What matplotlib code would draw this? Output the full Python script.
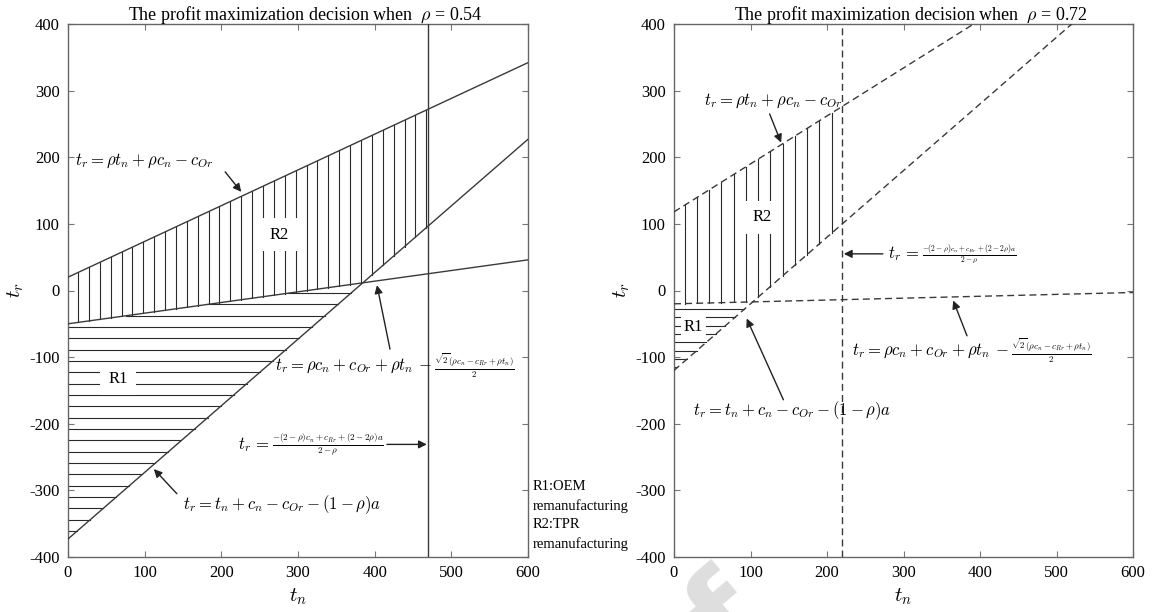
import numpy as np
import matplotlib.pyplot as plt

plt.rcParams['font.family'] = ['Liberation Serif', 'DejaVu Serif']
plt.rcParams['mathtext.fontset'] = 'cm'
plt.rcParams['axes.unicode_minus'] = False

# end points of the boundary lines, read at t_n = 0 and t_n = 600
tn_ends = [0, 600]

rho_left = 0.54
left_oem = [20, 342]        # t_r = rho t_n + rho c_n - c_Or
left_diag = [-373, 227]     # t_r = t_n + c_n - c_Or - (1-rho)a
left_flat = [-50, 46]       # t_r = rho c_n + c_Or + rho t_n - sqrt2(...)/2
left_vline = 470            # t_r = (-(2-rho)c_n + ...)/(2-rho)

rho_right = 0.72
right_oem = [118, 550]
right_diag = [-120, 480]
right_flat = [-20, -3]
right_vline = 220

line_col = '#3a3a3a'
hatch_col = '#2a2a2a'


def line_at(line, x):
    return line[0] + (line[1] - line[0]) * x / 600.0


def x_at(line, y):
    return (y - line[0]) * 600.0 / (line[1] - line[0])


def draw_hatch(ax, top, diag, flat, xmax, vstart, vstep, hstart, hstep):
    # R2: vertical strokes between upper line and max(flat, diag)
    for x in np.arange(vstart, xmax, vstep):
        lo = max(line_at(flat, x), line_at(diag, x))
        hi = line_at(top, x)
        if hi > lo:
            ax.plot([x, x], [lo, hi], color=hatch_col, lw=0.8, zorder=2)
    # R1: horizontal strokes below flat and above diag
    for y in np.arange(hstart, diag[0], -hstep):
        xl = 0 if y <= flat[0] else x_at(flat, y)
        xr = x_at(diag, y)
        if xr > xl:
            ax.plot([xl, xr], [y, y], color=hatch_col, lw=0.8, zorder=2)


def setup(ax, rho):
    ax.set_xlim(0, 600)
    ax.set_ylim(-400, 400)
    ax.set_xticks(range(0, 601, 100))
    ax.set_yticks(range(-400, 401, 100))
    ax.tick_params(direction='in', top=True, right=True, length=4,
                   color='#777', labelsize=12, pad=6)
    for s in ax.spines.values():
        s.set_color('#666')
        s.set_linewidth(1.0)
    ax.set_xlabel(r'$t_n$', fontsize=15, labelpad=4)
    ax.set_ylabel(r'$t_r$', fontsize=15, labelpad=2)
    ax.set_title('The profit maximization decision when  $\\rho$ = %.2f' % rho,
                 fontsize=13, pad=3, x=0.515)


def arrow(ax, tail, head):
    ax.annotate('', xy=head, xytext=tail,
                arrowprops=dict(arrowstyle='-|>', color='#222', lw=1.0,
                                mutation_scale=12, shrinkA=0, shrinkB=0),
                zorder=5)


def label(ax, x, y, s, pad=5):
    ax.text(x, y, s, fontsize=12, ha='center', va='center', zorder=6,
            bbox=dict(fc='white', ec='none', pad=pad))


def eq_frac(ax, x, y, head, frac, fsize):
    t1 = ax.text(x, y, head, fontsize=12, va='center', zorder=6)
    ax.annotate(frac, xy=(1, 0.5), xycoords=t1, xytext=(1.5, 0),
                textcoords='offset points', ha='left', va='center',
                fontsize=fsize, zorder=6)


eq_oem = r'$t_r = \rho t_n + \rho c_n - c_{Or}$'
eq_flat_head = r'$t_r = \rho c_n + c_{Or} + \rho t_n\, -$'
eq_flat_frac = r'$\frac{\sqrt{2}(\rho c_n - c_{Rr} + \rho t_n)}{2}$'
eq_vline_head = r'$t_r\, =$'
eq_vline_frac = r'$\frac{-(2-\rho)c_n + c_{Rr} + (2-2\rho)a}{2-\rho}$'
eq_diag = r'$t_r = t_n + c_n - c_{Or} - (1-\rho)a$'

fig = plt.figure(figsize=(11.58, 6.12), dpi=100)
axl = fig.add_axes([68 / 1158, 55 / 612, 460 / 1158, 533 / 612])
axr = fig.add_axes([674 / 1158, 55 / 612, 459 / 1158, 533 / 612])

# ---------------- left panel ----------------
for ln in (left_oem, left_diag, left_flat):
    axl.plot(tn_ends, ln, color=line_col, lw=1.0, zorder=3)
axl.axvline(left_vline, color=line_col, lw=1.0, zorder=3)
draw_hatch(axl, left_oem, left_diag, left_flat, left_vline,
           13, 14.2, -4, 17)
label(axl, 65, -133, 'R1', pad=6)
label(axl, 276, 84, 'R2', pad=6)

axl.text(9, 195, eq_oem, fontsize=12, va='center', zorder=6)
arrow(axl, (205, 178), (226, 148))
eq_frac(axl, 270, -113, eq_flat_head, eq_flat_frac, 9.2)
arrow(axl, (420, -88), (403, 8))
eq_frac(axl, 222, -231, eq_vline_head, eq_vline_frac, 9.3)
arrow(axl, (416, -231), (468, -231))
axl.text(150, -321, eq_diag, fontsize=12, va='center', zorder=6)
arrow(axl, (142, -305), (112, -268))

axl.text(1.01, 0.144, 'R1:OEM\nremanufacturing\nR2:TPR\nremanufacturing',
         transform=axl.transAxes, fontsize=10.5, ha='left', va='top',
         linespacing=1.55)
setup(axl, rho_left)

# ---------------- right panel ----------------
for ln in (right_oem, right_diag, right_flat):
    axr.plot(tn_ends, ln, color=line_col, lw=1.0, ls=(0, (5, 3)), zorder=3)
axr.axvline(right_vline, color=line_col, lw=1.0, ls=(0, (5, 3)), zorder=3)
draw_hatch(axr, right_oem, right_diag, right_flat, right_vline,
           14, 16, -28, 12.5)
label(axr, 25, -55, 'R1', pad=2)
label(axr, 115, 110, 'R2', pad=6)

axr.text(39, 285, eq_oem, fontsize=12, va='center', zorder=6)
arrow(axr, (125, 265), (140, 222))
eq_frac(axr, 280, 55, eq_vline_head, eq_vline_frac, 7.8)
arrow(axr, (273, 55), (222, 55))
eq_frac(axr, 233, -90, eq_flat_head, eq_flat_frac, 9.2)
arrow(axr, (383, -68), (365, -15))
axr.text(25, -180, eq_diag, fontsize=12, va='center', zorder=6)
arrow(axr, (143, -164), (95, -42))
setup(axr, rho_right)

# faint watermark
fig.text(0.665, -0.02, 'Proof', fontsize=90, color='#dedede', rotation=40,
         ha='right', va='baseline', rotation_mode='anchor',
         family='DejaVu Sans', fontweight='bold', zorder=0)

fig.savefig('out.png', dpi=100)
